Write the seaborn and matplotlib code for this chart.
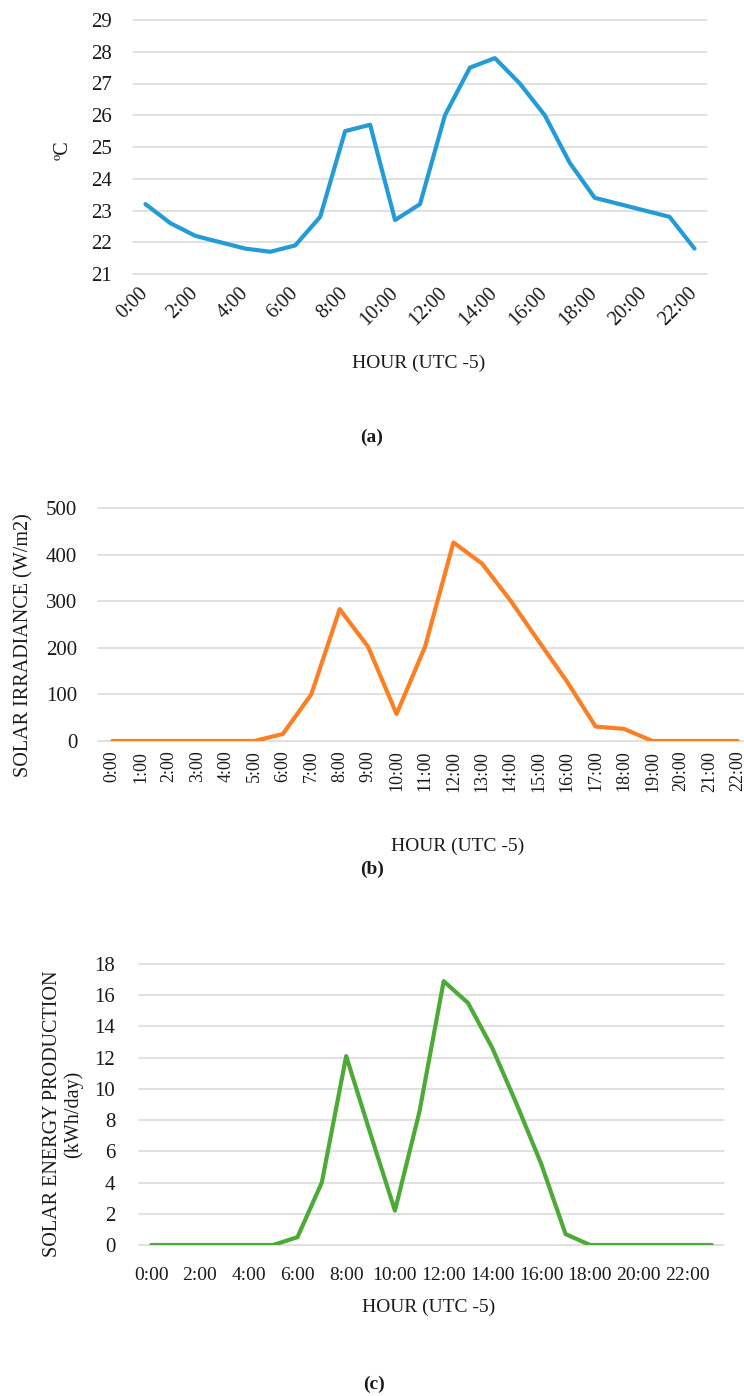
import matplotlib
matplotlib.use("Agg")
import matplotlib.pyplot as plt
import seaborn as sns

# hourly readings (UTC -5)
temp_hours = list(range(23))
temperature = [23.2, 22.6, 22.2, 22.0, 21.8, 21.7, 21.9, 22.8, 25.5, 25.7, 22.7, 23.2,
               26.0, 27.5, 27.8, 27.0, 26.0, 24.5, 23.4, 23.2, 23.0, 22.8, 21.8]

irr_hours = list(range(23))
irradiance = [0, 0, 0, 0, 0, 0, 15, 100, 283, 202, 58, 202,
              426, 381, 302, 214, 127, 31, 26, 0, 0, 0, 0]

energy_hours = list(range(24))
energy = [0, 0, 0, 0, 0, 0, 0.5, 4.0, 12.1, 7.1, 2.2, 8.5,
          16.9, 15.5, 12.6, 9.0, 5.2, 0.7, 0, 0, 0, 0, 0, 0]

W, H = 744, 1396
sns.set_theme(style="white")
plt.rcParams['font.family'] = ['Liberation Serif', 'DejaVu Serif']
plt.rcParams['text.color'] = '#1a1a1a'

fig = plt.figure(figsize=(W / 100, H / 100), dpi=100)


def add_ax(left, top, right, bottom):
    # pixel box -> figure fraction
    return fig.add_axes([left / W, 1 - bottom / H, (right - left) / W, (bottom - top) / H])


def style(ax, ylim, yticks, pad):
    ax.set_ylim(*ylim)
    ax.set_yticks(yticks)
    ax.grid(axis='y', color='#d9d9d9', linewidth=1.1)
    ax.grid(axis='x', visible=False)
    ax.set_axisbelow(True)
    for g in ax.yaxis.get_gridlines():
        g.set_clip_on(False)
    for s in ax.spines.values():
        s.set_visible(False)
    ax.tick_params(axis='y', length=0, pad=pad, labelsize=15, labelcolor='#1a1a1a')
    ax.tick_params(axis='x', length=0, labelcolor='#1a1a1a')
    ax.set_xlabel('')
    ax.set_ylabel('')


def hour_labels(hours):
    return [f"{h}:00" for h in hours]


# (a) temperature
ax1 = add_ax(133, 20, 707, 274)
sns.lineplot(x=temp_hours, y=temperature, ax=ax1, color='#239bd7', linewidth=3.0)
style(ax1, (21, 29), range(21, 30), 15)
ax1.set_xlim(-0.5, len(temp_hours) - 0.5)
ticks = temp_hours[::2]
ax1.set_xticks(ticks)
ax1.set_xticklabels(hour_labels(ticks), rotation=45, ha='right', va='center',
                    rotation_mode='anchor', fontsize=14.5)
ax1.tick_params(axis='x', pad=12)
fig.text(63 / W, 1 - 150 / H, 'ºC', rotation=90, ha='center', va='center', fontsize=14.5)
fig.text(419 / W, 1 - 363 / H, 'HOUR (UTC -5)', ha='center', va='center', fontsize=14)
fig.text(372 / W, 1 - 437 / H, '(a)', ha='center', va='center', fontsize=14, fontweight='bold')

# (b) solar irradiance
ax2 = add_ax(98, 508, 752, 741)
sns.lineplot(x=irr_hours, y=irradiance, ax=ax2, color='#fd7f23', linewidth=3.0)
style(ax2, (0, 500), range(0, 501, 100), 15)
ax2.set_xlim(-0.5, len(irr_hours) - 0.5)
ax2.set_xticks(irr_hours)
ax2.set_xticklabels(hour_labels(irr_hours), rotation=90, ha='center', va='top', fontsize=13)
ax2.tick_params(axis='x', pad=7)
fig.text(24 / W, 1 - 645 / H, 'SOLAR IRRADIANCE (W/m2)', rotation=90,
         ha='center', va='center', fontsize=14.5)
fig.text(458 / W, 1 - 846 / H, 'HOUR (UTC -5)', ha='center', va='center', fontsize=14)
fig.text(372 / W, 1 - 869 / H, '(b)', ha='center', va='center', fontsize=14, fontweight='bold')

# (c) solar energy production
ax3 = add_ax(139, 964, 724, 1245)
sns.lineplot(x=energy_hours, y=energy, ax=ax3, color='#4caa36', linewidth=3.0)
style(ax3, (0, 18), range(0, 19, 2), 17)
ax3.set_xlim(-0.5, len(energy_hours) - 0.5)
ticks = energy_hours[::2]
ax3.set_xticks(ticks)
ax3.set_xticklabels(hour_labels(ticks), fontsize=14)
ax3.tick_params(axis='x', pad=16)
fig.text(63 / W, 1 - 1114 / H, 'SOLAR ENERGY PRODUCTION\n(kWh/day)', rotation=90,
         ha='center', va='center', multialignment='center', fontsize=14.5, linespacing=1.15)
fig.text(429 / W, 1 - 1307 / H, 'HOUR (UTC -5)', ha='center', va='center', fontsize=14)
fig.text(374 / W, 1 - 1384 / H, '(c)', ha='center', va='center', fontsize=14, fontweight='bold')

fig.savefig('out.png', dpi=100)
